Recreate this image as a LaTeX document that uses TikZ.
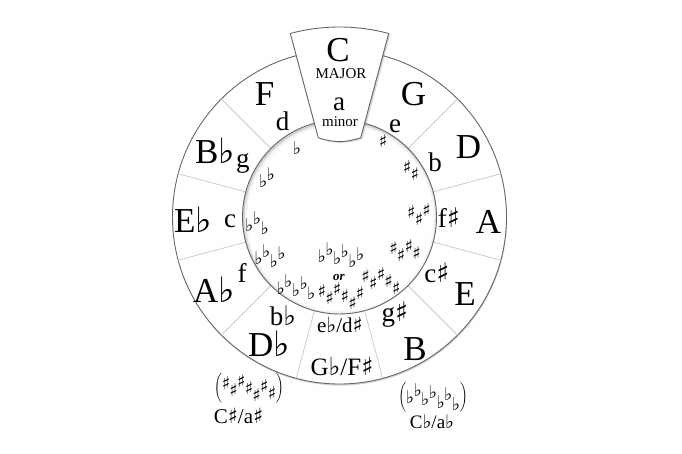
\documentclass[tikz,border=0pt]{standalone}
\usepackage{fontspec}
\setmainfont{Liberation Serif}
\newfontfamily\symfont{DejaVu Sans}
\usetikzlibrary{shadows}
\newdimen\accstep \accstep=2.4pt
\newcommand\mfl{{\symfont ♭}}
\newcommand\msh{{\symfont ♯}}
\newcommand\Fl[1]{\kern-0.3pt\raisebox{#1\accstep}{\mfl}\kern-0.3pt}
\newcommand\Sh[1]{\kern-0.4pt\raisebox{#1\accstep}{\msh}\kern-0.4pt}
\newcommand\flats[1]{\ifnum#1>0 \Fl{0}\fi\ifnum#1>1 \Fl{3}\fi\ifnum#1>2 \Fl{-1}\fi\ifnum#1>3 \Fl{2}\fi\ifnum#1>4 \Fl{-2}\fi\ifnum#1>5 \Fl{1}\fi\ifnum#1>6 \Fl{-3}\fi}
\newcommand\sharps[1]{\ifnum#1>0 \Sh{4}\fi\ifnum#1>1 \Sh{1}\fi\ifnum#1>2 \Sh{5}\fi\ifnum#1>3 \Sh{2}\fi\ifnum#1>4 \Sh{-1}\fi\ifnum#1>5 \Sh{3}\fi\ifnum#1>6 \Sh{0}\fi}
\newcommand\fs[1]{\fontsize{#1}{#1}\selectfont}
\tikzset{
  majorkey/.style={font=\fs{35}, anchor=base, inner sep=0pt},
  minorkey/.style={font=\fs{27}, anchor=base, inner sep=0pt},
  acc/.style={font=\fs{17.5}, inner sep=0pt},
  divider/.style={draw=black!20, line width=0.8pt},
  ring/.style={draw=black!60, line width=0.9pt},
}
\begin{document}
\begin{tikzpicture}[x=1pt,y=1pt]
\useasboundingbox (-339.5,-236) rectangle (342.5,217);
% ring
\fill[white, drop shadow={opacity=0.35, shadow xshift=0.6pt, shadow yshift=-1.6pt}] (0,0) circle (167);
\draw[ring] (0,0) circle (167);
\foreach \a in {15,45,...,345} \draw[divider] (\a:97) -- (\a:167);
\begin{scope}
  \clip (0,0) circle (97);
  \foreach \w/\o in {8/0.03, 5/0.04, 3/0.05, 1.6/0.08}
    \draw[black, opacity=\o, line width=\w pt] (0.8,-1.2) circle (97);
\end{scope}
\draw[ring] (0,0) circle (97);
% C sector
\filldraw[fill=white, draw=black!60, line width=0.9pt,
  drop shadow={opacity=0.3, shadow xshift=1.8pt, shadow yshift=-1.2pt}]
  (105:82) -- (105:190) arc[start angle=105, end angle=75, radius=190]
  -- (75:82) to[bend left=18] (105:82) -- cycle;
% texts in image coordinates
\begin{scope}[shift={(-339.5,217)}, yscale=-1]
  \node[majorkey] (C) at (338,61) {C};
  \node[font=\fs{15}, anchor=base, inner sep=0pt] (major) at (341,78) {MAJOR};
  \node[font=\fs{27}, anchor=base, inner sep=0pt] (am) at (339,110) {a};
  \node[font=\fs{15}, anchor=base, inner sep=0pt] (minor) at (340,126) {minor};
  \node[majorkey] (F) at (264.5,105) {F};
  \node[majorkey] (G) at (413.5,105) {G};
  \node[majorkey] (D) at (468.5,158) {D};
  \node[majorkey] (A) at (488.5,233) {A};
  \node[majorkey] (E) at (465,305) {E};
  \node[majorkey] (B) at (415,360) {B};
  \node[majorkey] (Db) at (269,356) {D\mfl};
  \node[majorkey] (Ab) at (214,302) {A\mfl};
  \node[majorkey] (Eb) at (193,232) {E\mfl};
  \node[majorkey] (Bb) at (215,163) {B\mfl};
  \node[font=\fs{25}, anchor=base, inner sep=0pt] (Gb) at (342,375) {G\mfl/F\msh};
  \node[minorkey] (dm) at (282.5,130) {d};
  \node[minorkey] (em) at (395,132) {e};
  \node[minorkey] (bm) at (435,171) {b};
  \node[minorkey] (fsm) at (449,227) {f\msh};
  \node[minorkey] (csm) at (437,282) {c\msh};
  \node[minorkey] (gsm) at (395,321) {g\msh};
  \node[minorkey] (bbm) at (283,325) {b\mfl};
  \node[minorkey] (fm) at (242,282) {f};
  \node[minorkey] (cm) at (230,227) {c};
  \node[minorkey] (gm) at (243,167) {g};
  \node[font=\fs{21}, anchor=base, inner sep=0pt] (ebm) at (340,332) {e\mfl/d\msh};
  % key signatures
  \node[acc] (f1) at (297,148) {\flats{1}};
  \node[acc] (f2) at (267,178) {\flats{2}};
  \node[acc] (f3) at (257,223) {\flats{3}};
  \node[acc] (f4) at (270,256) {\flats{4}};
  \node[acc] (f5) at (296,287) {\flats{5}};
  \node[acc] (f6) at (341,255) {\flats{6}};
  \node[font=\fs{13}\bfseries\itshape, inner sep=0pt] (or) at (339,277) {or};
  \node[acc] (s6) at (341,296) {\sharps{6}};
  \node[acc] (s5) at (381,281) {\sharps{5}};
  \node[acc] (s4) at (405,252) {\sharps{4}};
  \node[acc] (s3) at (419,216) {\sharps{3}};
  \node[acc] (s2) at (411,172) {\sharps{2}};
  \node[acc] (s1) at (383,146) {\sharps{1}};
  % enharmonic extremes
  \node[acc] (s7) at (249,388) {$\left(\vcenter{\hbox{\sharps{7}}}\right)$};
  \node[font=\fs{21}, anchor=base, inner sep=0pt] (Cs) at (238.5,423) {C\msh/a\msh};
  \node[acc] (f7) at (433,397) {$\left(\vcenter{\hbox{\flats{7}}}\right)$};
  \node[font=\fs{19}, anchor=base, inner sep=0pt] (Cb) at (432,428) {C\mfl/a\mfl};
\end{scope}
\end{tikzpicture}
\end{document}
